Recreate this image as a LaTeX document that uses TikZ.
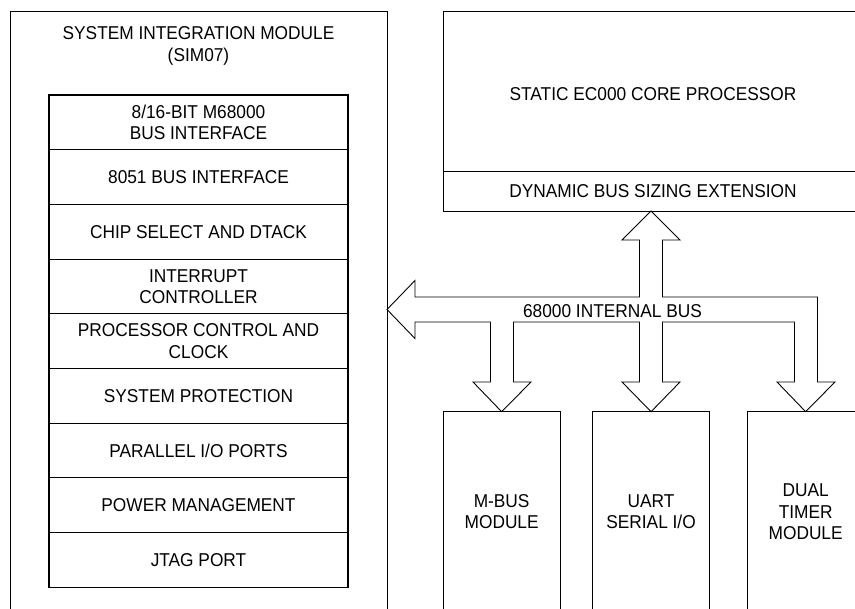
\documentclass[tikz,border=0pt]{standalone}
\usepackage{fontspec}
\setmainfont{Liberation Sans}[FakeStretch=0.93]
\usetikzlibrary{positioning, calc}

\begin{document}
\begin{tikzpicture}[
    x=1pt, y=-1pt,
    every node/.style={font=\fontsize{18.6}{21.5}\selectfont, align=center},
    frame/.style={rectangle, draw=black, line width=0.9pt, anchor=north west, outer sep=0pt},
    simrow/.style={rectangle, draw=black, line width=1.1pt, minimum width=299pt, minimum height=54.7pt, outer sep=0pt},
    module/.style={frame, minimum width=116.7pt, minimum height=200pt},
    bus/.style={draw=black, line width=0.9pt, line join=miter}
]
    \path[use as bounding box, clip] (0,0) rectangle (855,609);

    % system integration module with its stack of blocks
    \node[frame, minimum width=377pt, minimum height=640pt] (sim) at (10,11) {};
    \node (simtitle) at (198.5,46) {SYSTEM INTEGRATION MODULE\\(SIM07)};

    \node[simrow, anchor=north] (busif) at (198.5,95) {8/16-BIT M68000\\BUS INTERFACE};
    \node[simrow, below=0pt of busif] (i8051) {8051 BUS INTERFACE};
    \node[simrow, below=0pt of i8051] (chipsel) {CHIP SELECT AND DTACK};
    \node[simrow, below=0pt of chipsel] (intctl) {INTERRUPT\\CONTROLLER};
    \node[simrow, below=0pt of intctl] (procctl) {PROCESSOR CONTROL AND\\CLOCK};
    \node[simrow, below=0pt of procctl] (sysprot) {SYSTEM PROTECTION};
    \node[simrow, below=0pt of sysprot] (pio) {PARALLEL I/O PORTS};
    \node[simrow, below=0pt of pio] (pwrmgt) {POWER MANAGEMENT};
    \node[simrow, below=0pt of pwrmgt] (jtag) {JTAG PORT};

    % core processor
    \node[frame, minimum width=420pt, minimum height=160pt, text height=20pt] (core) at (443,11) {STATIC EC000 CORE PROCESSOR};
    \node[frame, minimum width=420pt, minimum height=40pt, below=0pt of core] (dbse) {DYNAMIC BUS SIZING EXTENSION};

    % peripheral modules
    \node[module] (mbus) at (443.3,411.7) {M-BUS\\MODULE};
    \node[module] (uart) at (592.7,411.7) {UART\\SERIAL I/O};
    \node[module] (timer) at (747.3,411.7) {DUAL\\TIMER\\MODULE};

    % internal bus
    \draw[bus] (dbse.south -| uart.north) -- (680,240) -- (662.5,240) -- (662.5,297)
        -- (817.5,297) -- (817.5,382) -- (835,382) -- (timer.north) -- (777,382) -- (794.5,382)
        -- (794.5,322) -- (662.5,322) -- (662.5,382) -- (680,382) -- (uart.north) -- (622,382)
        -- (639.5,382) -- (639.5,322) -- (513.5,322) -- (513.5,382) -- (531,382) -- (mbus.north)
        -- (473,382) -- (490.5,382) -- (490.5,322) -- (415,322) -- (415,338.5)
        -- (sim.east |- 0,309.5) -- (415,280.5) -- (415,297) -- (639.5,297) -- (639.5,240)
        -- (622,240) -- cycle;
    \node (buslbl) at (612.5,311) {68000 INTERNAL BUS};
\end{tikzpicture}
\end{document}
